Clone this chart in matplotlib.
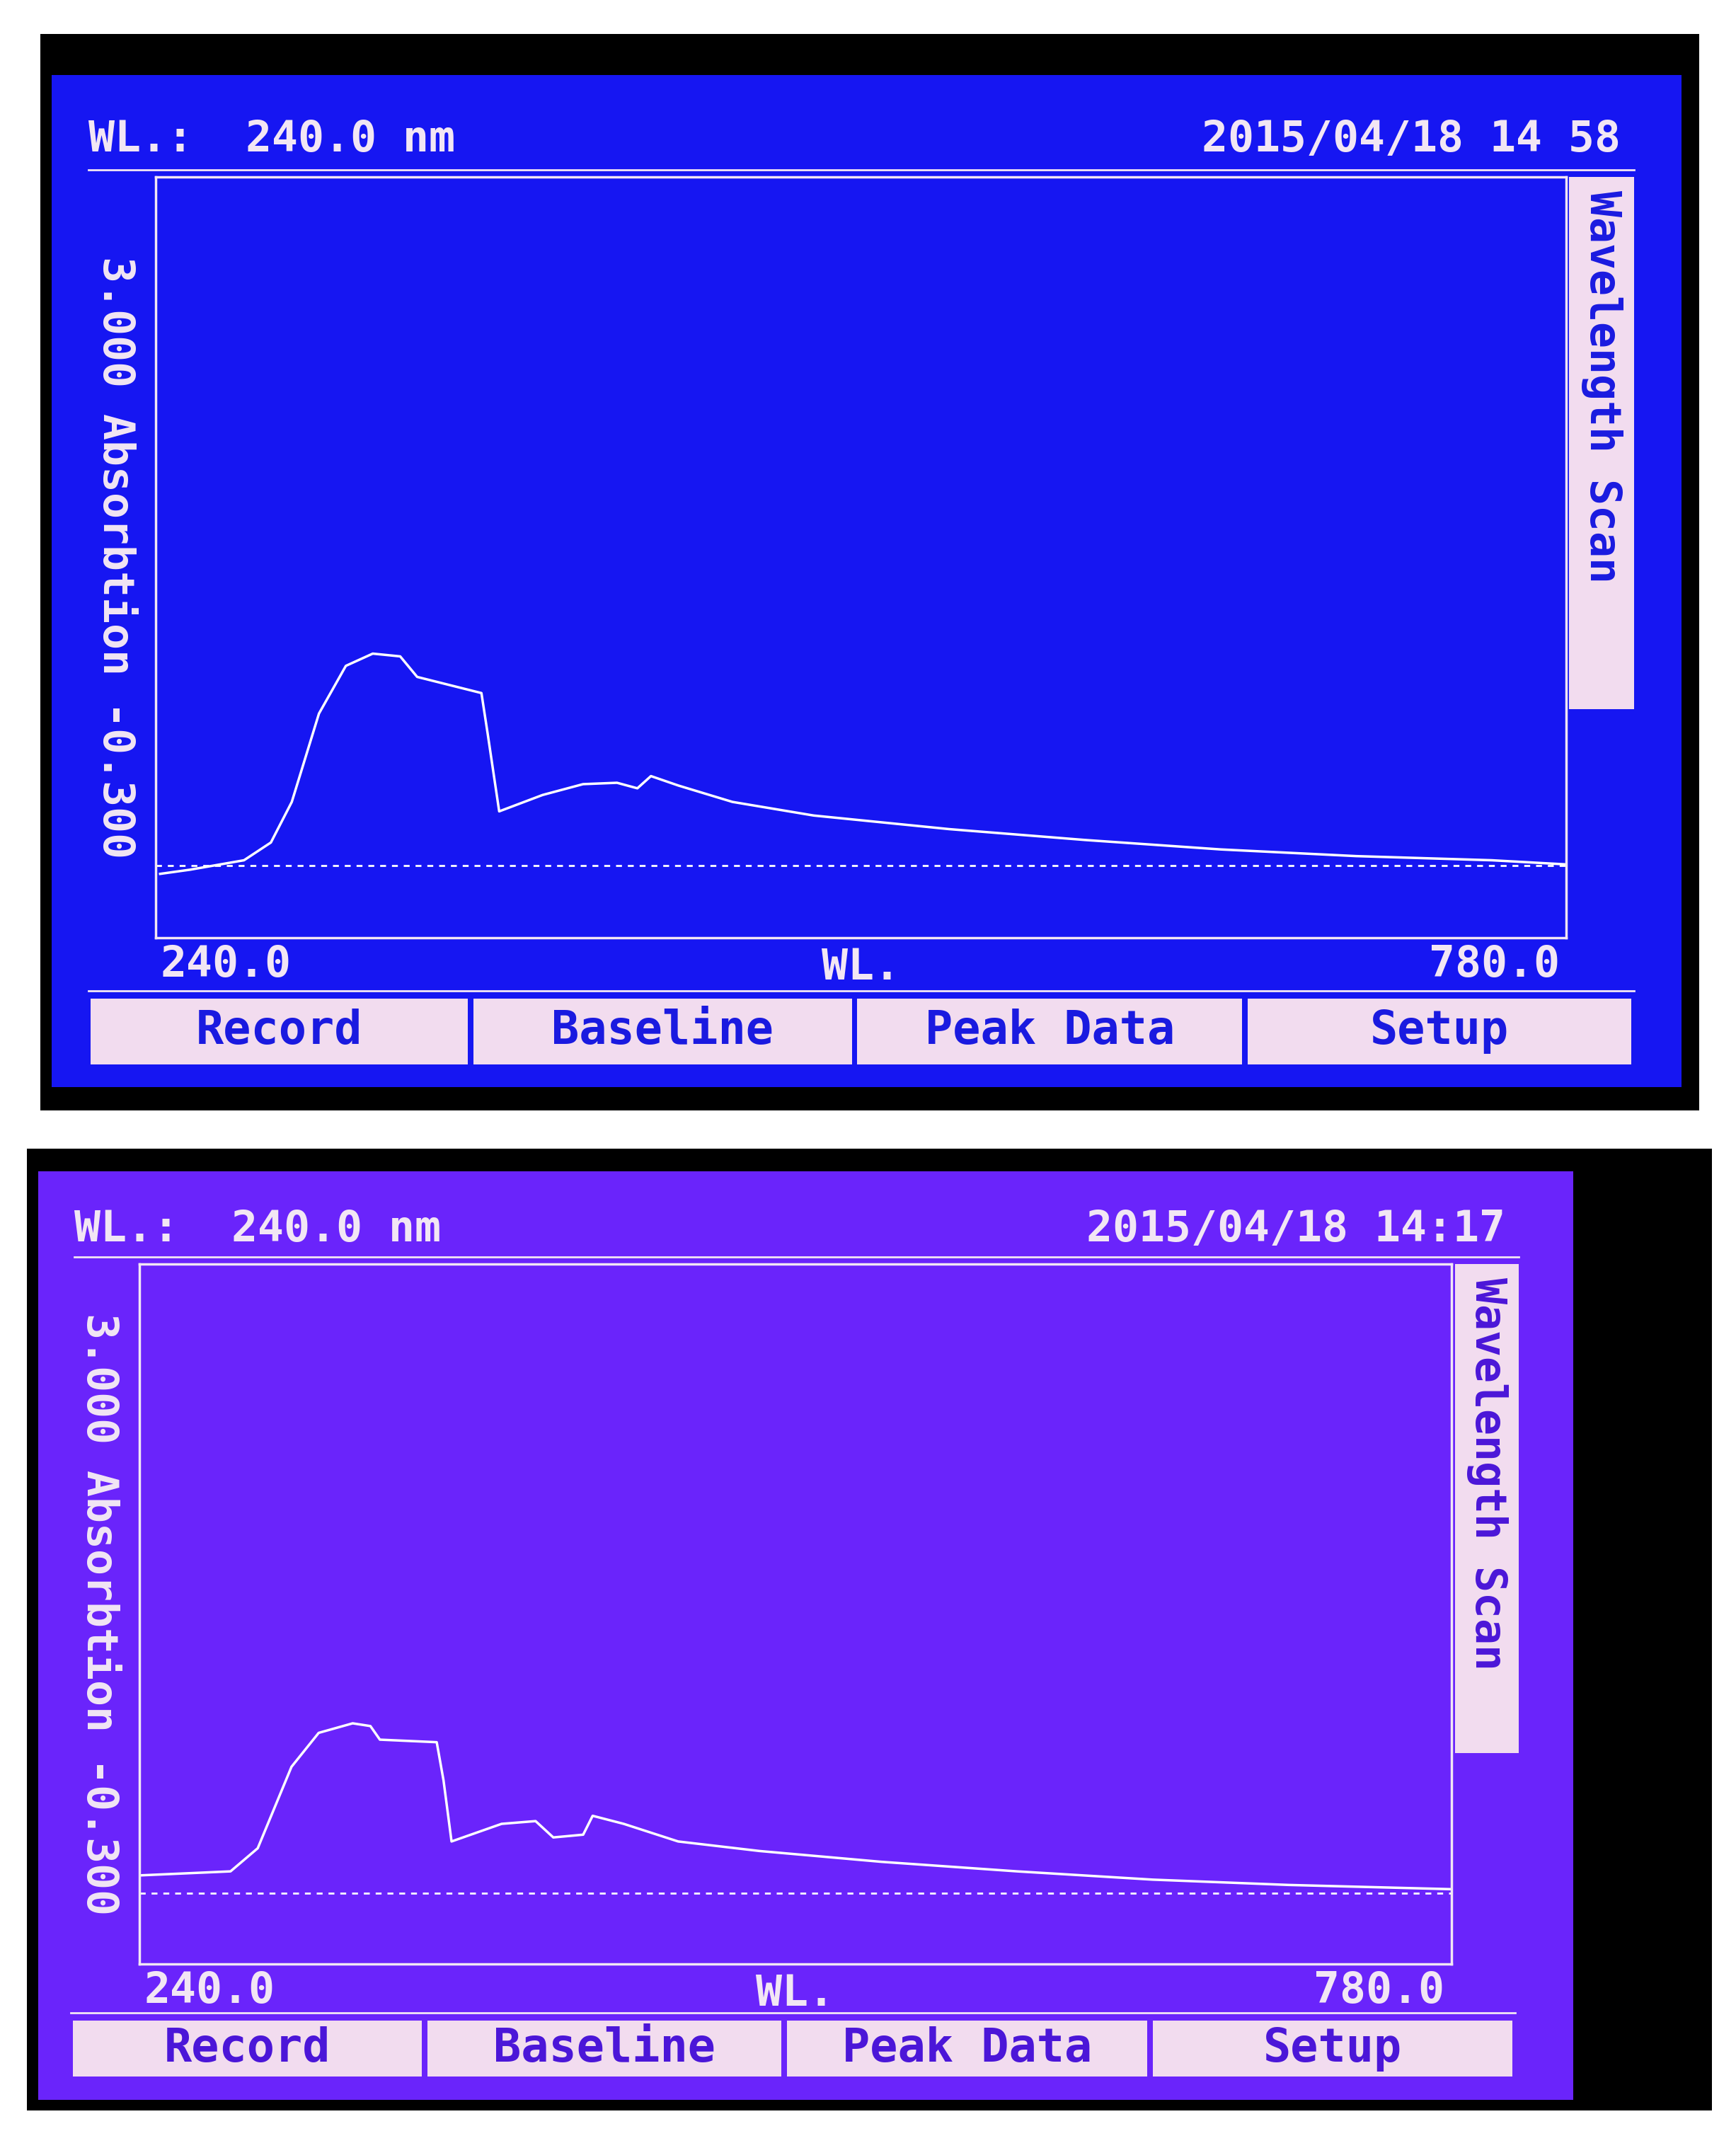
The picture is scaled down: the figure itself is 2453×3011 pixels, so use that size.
import matplotlib
matplotlib.use("Agg")
import matplotlib.pyplot as plt
from matplotlib.patches import Rectangle

# reference is laid out in a 1280 x 1568 grid, scaled to 2453 x 3011
W, H = 1280, 1568
S = 3011 / H

# top screen scan
top_wl = [241.6, 253, 273.7, 284, 292, 302.4, 312.7, 323, 333.5, 340, 364.6, 367, 371.4,
          388, 403.5, 416.5, 424.3, 429.5, 440, 460.7, 491.8, 543.7, 595.6, 647.6,
          699.5, 751.4, 780]
top_abs = [-0.023, -0.005, 0.036, 0.113, 0.289, 0.672, 0.879, 0.932, 0.920, 0.831, 0.761,
           0.584, 0.248, 0.319, 0.366, 0.372, 0.348, 0.401, 0.360, 0.289, 0.230, 0.171,
           0.124, 0.083, 0.054, 0.036, 0.018]
top_base = 0.012

# bottom screen scan
bot_wl = [240, 277.4, 288.6, 302.5, 313.7, 327.7, 335, 338.9, 362.3, 365.1, 368.4, 389,
          403, 410.3, 422.6, 426.5, 439.3, 461.7, 495.2, 545.4, 601.3, 657.1, 713, 780]
bot_abs = [0.117, 0.136, 0.245, 0.629, 0.789, 0.834, 0.821, 0.757, 0.745, 0.565, 0.277,
           0.360, 0.373, 0.296, 0.309, 0.398, 0.360, 0.277, 0.232, 0.181, 0.136, 0.097,
           0.072, 0.052]
bot_base = 0.033

buttons = ["Record", "Baseline", "Peak Data", "Setup"]
FONT = "DejaVu Sans Mono"

fig = plt.figure(figsize=(24.53, 30.11), dpi=100)
fig.patch.set_facecolor("white")


def fx(x):
    return x / W


def fy(y):
    return 1 - y / H


def rect(x0, y0, x1, y1, **kw):
    fig.patches.append(Rectangle((fx(x0), fy(y1)), fx(x1) - fx(x0), fy(y0) - fy(y1),
                                 transform=fig.transFigure, **kw))


def hline(x0, x1, y, color, lw=2):
    fig.lines.append(plt.Line2D([fx(x0), fx(x1)], [fy(y), fy(y)], transform=fig.transFigure,
                                color=color, lw=lw, zorder=3))


def txt(x, y, s, size, color, ha="left", rot=0, va="center"):
    fig.text(fx(x), fy(y), s, fontsize=size * S * 0.72, color=color, ha=ha, va=va,
             rotation=rot, family=FONT, fontweight="bold", zorder=4)


def screen(g, wl, ab, base, stamp):
    rect(*g["frame"], facecolor="black", zorder=0)
    rect(*g["screen"], facecolor=g["bg"], zorder=0.5)
    fg = "#f2e6f4"
    ink = g["ink"]
    x0, y0, x1, y1 = g["plot"]
    # header
    txt(g["left"], g["head"], "WL.:  240.0 nm", 32, fg)
    txt(x1 + 40, g["head"], stamp, 32, fg, ha="right")
    hline(g["left"], x1 + 50, y0 - 5, fg)
    # plot
    ax = fig.add_axes([fx(x0), fy(y1), fx(x1) - fx(x0), fy(y0) - fy(y1)])
    ax.set_zorder(2)
    ax.set_facecolor(g["bg"])
    ax.plot(wl, ab, color="white", lw=2.5)
    ax.axhline(base, color="white", lw=2, ls=(0, (3, 3)))
    ax.set_xlim(240, 780)
    ax.set_ylim(-0.3, 3.0)
    ax.set_xticks([])
    ax.set_yticks([])
    for sp in ax.spines.values():
        sp.set_color(fg)
        sp.set_linewidth(2.5)
    # y label
    txt(x0 - 30, (y0 + y1) / 2, "3.000 Absorbtion -0.300", 32, fg, ha="center", rot=270)
    # side tab
    tx0, ty0, tx1, ty1 = g["tab"]
    rect(tx0, ty0, tx1, ty1, facecolor="#f2dcef", zorder=3)
    txt((tx0 + tx1) / 2, ty0 + 10, "Wavelength Scan", 32, ink, ha="center", rot=270, va="top")
    # x labels
    ly = y1 + 20
    txt(x0 + 3, ly, "240.0", 32, fg)
    txt((x0 + x1) / 2, ly + 2, "WL.", 32, fg, ha="center")
    txt(x1 - 5, ly, "780.0", 32, fg, ha="right")
    # buttons
    bx0, by0, bx1, by1 = g["buttons"]
    hline(bx0, bx1, by0 - 6, fg)
    edges = [bx0] + g["seps"] + [bx1]
    for i, name in enumerate(buttons):
        rect(edges[i] + 2, by0, edges[i + 1] - 2, by1, facecolor="#f2dcef", zorder=3)
        txt((edges[i] + edges[i + 1]) / 2, (by0 + by1) / 2, name, 34, ink, ha="center")


top = dict(frame=(30, 25, 1253, 817), screen=(38, 55, 1240, 800), bg="#1616f2", ink="#1a1ae0",
           left=65, head=103, plot=(115, 130, 1155, 690), tab=(1157, 130, 1205, 522),
           buttons=(65, 735, 1205, 783), seps=[347, 630, 918])
bot = dict(frame=(20, 845, 1262, 1553), screen=(28, 862, 1160, 1545), bg="#6a24fb", ink="#4b16d8",
           left=55, head=905, plot=(103, 930, 1070, 1445), tab=(1073, 930, 1120, 1290),
           buttons=(52, 1487, 1117, 1528), seps=[313, 578, 848])

screen(top, top_wl, top_abs, top_base, "2015/04/18 14 58")
screen(bot, bot_wl, bot_abs, bot_base, "2015/04/18 14:17")

fig.savefig("out.png", dpi=100)
